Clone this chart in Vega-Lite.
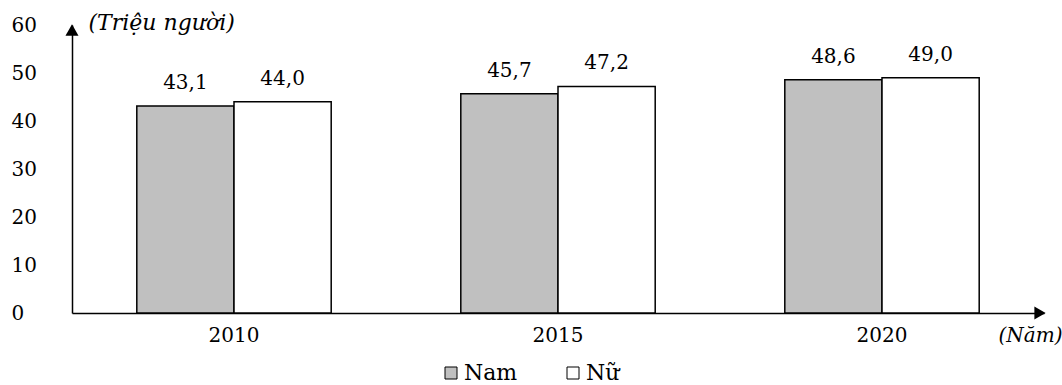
{
  "$schema": "https://vega.github.io/schema/vega-lite/v6.json",
  "width": 972,
  "height": 288,
  "autosize": "none",
  "padding": {"left": 72, "top": 25, "right": 18, "bottom": 72},
  "background": "white",
  "datasets": {
    "bars": [
      {"year": "2010", "sex": "Nam", "value": 43.1},
      {"year": "2010", "sex": "Nữ", "value": 44.0},
      {"year": "2015", "sex": "Nam", "value": 45.7},
      {"year": "2015", "sex": "Nữ", "value": 47.2},
      {"year": "2020", "sex": "Nam", "value": 48.6},
      {"year": "2020", "sex": "Nữ", "value": 49.0}
    ],
    "arrows": [
      {"axis": "y", "value": 60},
      {"axis": "x", "value": 0}
    ]
  },
  "layer": [
    {
      "data": {"name": "bars"},
      "mark": {"type": "bar", "stroke": "black", "strokeWidth": 1.5},
      "encoding": {
        "x": {
          "field": "year", "type": "nominal",
          "scale": {"paddingInner": 0.4, "paddingOuter": 0.2},
          "axis": {
            "title": "(Năm)", "titleFont": "DejaVu Serif", "titleFontStyle": "italic", "titleFontWeight": "normal",
            "titleFontSize": 20, "titleColor": "black", "titleX": 958, "titleY": 22, "titleBaseline": "middle", "titleAlign": "center",
            "labelAngle": 0, "labelFont": "DejaVu Serif", "labelFontSize": 20, "labelColor": "black", "labelPadding": 12,
            "ticks": false, "domainColor": "black", "domainWidth": 1.5
          }
        },
        "y": {
          "field": "value", "type": "quantitative",
          "scale": {"domain": [0, 60], "nice": false},
          "axis": {
            "values": [0, 10, 20, 30, 40, 50, 60], "grid": false, "ticks": false,
            "labelAlign": "left", "labelPadding": 61, "labelFont": "DejaVu Serif", "labelFontSize": 20, "labelColor": "black",
            "domainColor": "black", "domainWidth": 1.5,
            "title": "(Triệu người)", "titleAngle": 0, "titleFont": "DejaVu Serif", "titleFontStyle": "italic", "titleFontWeight": "normal",
            "titleFontSize": 22, "titleColor": "black", "titleX": 16, "titleY": -3, "titleAlign": "left", "titleBaseline": "middle"
          }
        },
        "xOffset": {"field": "sex", "type": "nominal", "sort": ["Nam", "Nữ"]},
        "color": {
          "field": "sex", "type": "nominal",
          "scale": {"domain": ["Nam", "Nữ"], "range": ["#c0c0c0", "#ffffff"]},
          "legend": {
            "title": null, "orient": "none", "direction": "horizontal", "legendX": 368, "legendY": 337,
            "symbolType": "square", "symbolSize": 144, "symbolStrokeColor": "black", "symbolStrokeWidth": 1, "symbolOpacity": 1,
            "labelFont": "DejaVu Serif", "labelFontSize": 22, "labelColor": "black", "labelOffset": 2, "columnPadding": 44
          }
        }
      }
    },
    {
      "data": {"name": "bars"},
      "mark": {"type": "text", "dy": -13, "font": "DejaVu Serif", "fontSize": 20, "color": "black", "baseline": "bottom"},
      "encoding": {
        "x": {"field": "year", "type": "nominal"},
        "xOffset": {"field": "sex", "type": "nominal", "sort": ["Nam", "Nữ"]},
        "y": {"field": "value", "type": "quantitative"},
        "text": {"field": "value", "type": "quantitative", "format": ".1f"}
      }
    },
    {
      "data": {"name": "arrows"},
      "transform": [{"filter": "datum.axis === 'y'"}],
      "mark": {"type": "point", "shape": "triangle-up", "filled": true, "color": "black", "size": 170, "opacity": 1, "yOffset": 5},
      "encoding": {
        "x": {"value": 0},
        "y": {"field": "value", "type": "quantitative"}
      }
    },
    {
      "data": {"name": "arrows"},
      "transform": [{"filter": "datum.axis === 'x'"}],
      "mark": {"type": "point", "shape": "triangle-right", "filled": true, "color": "black", "size": 170, "opacity": 1, "xOffset": -4},
      "encoding": {
        "x": {"value": 972},
        "y": {"field": "value", "type": "quantitative"}
      }
    }
  ],
  "config": {
    "view": {"stroke": null},
    "locale": {"number": {"decimal": ",", "thousands": ".", "grouping": [3], "currency": ["", ""]}}
  }
}
